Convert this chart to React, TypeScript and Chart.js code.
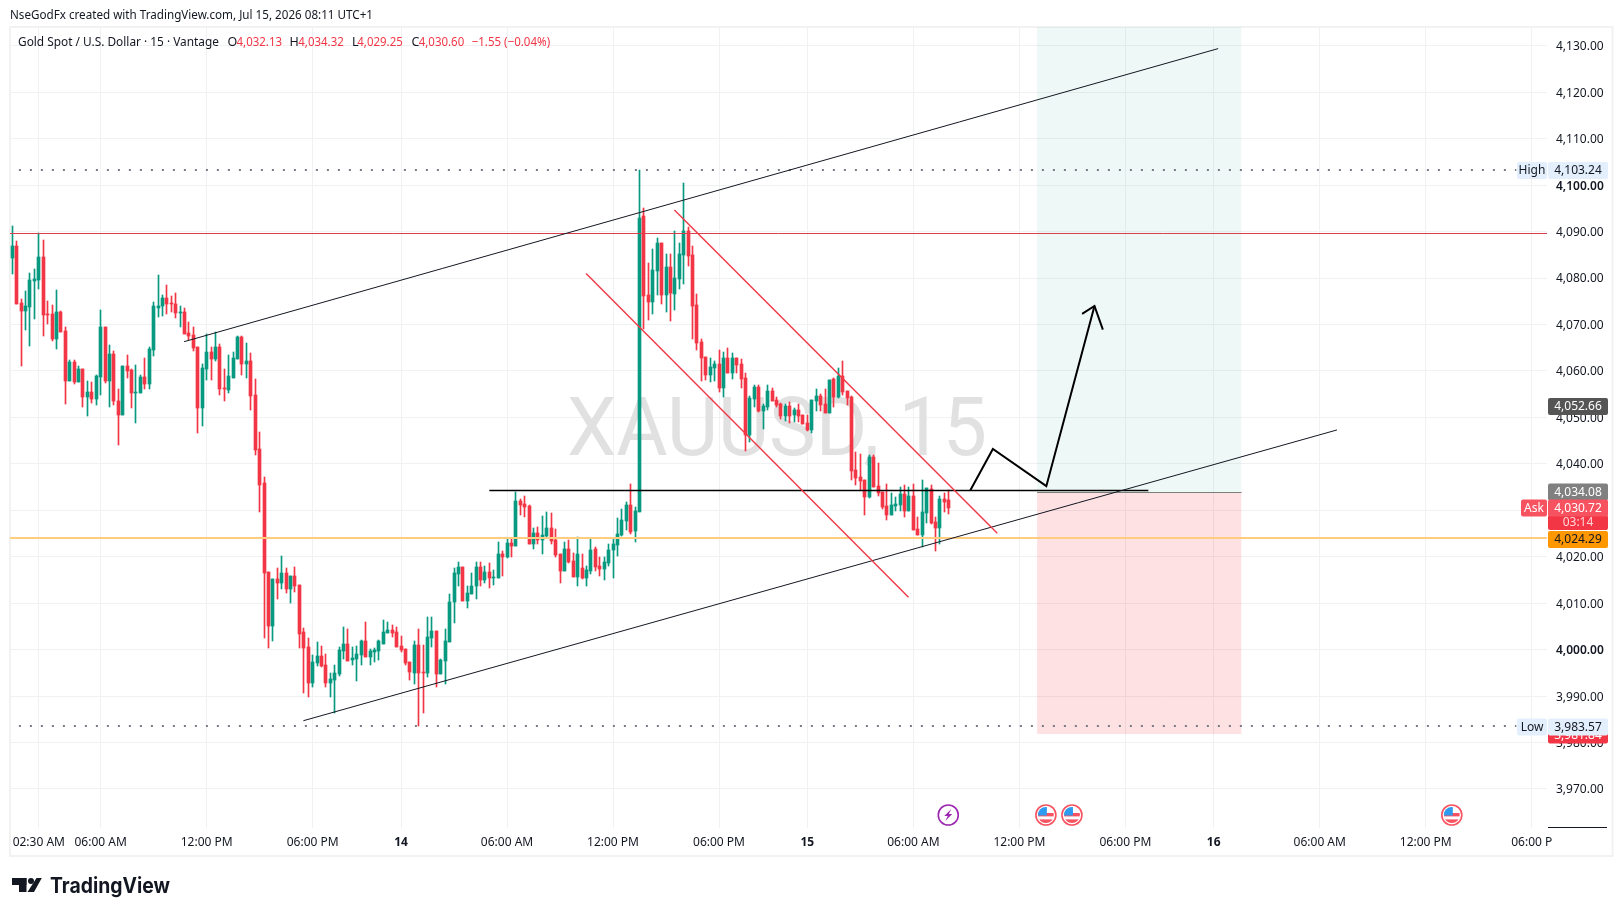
import React, { useEffect, useRef } from "react";
import { Chart, registerables } from "chart.js";

Chart.register(...registerables);

// ---- candle data (15 minute bars, oldest first) ----
const opens = [
  4084.4,4086.9,4074.6,4072.9,4073.8,4079.4,4079.6,4084.5,4072.3,4072.3,
  4066.9,4072.7,4068.6,4057.8,4061.9,4057.6,4060.4,4054.4,4055.5,4054.0,
  4058.7,4069.5,4057.8,4063.6,4053.5,4050.5,4061.1,4060.2,4055.3,4055.3,
  4058.7,4057.2,4064.5,4073.6,4074.0,4075.7,4074.6,4074.4,4072.5,4072.7,
  4068.2,4067.7,4065.2,4052.0,4060.4,4064.1,4062.6,4065.2,4056.3,4055.9,
  4058.5,4062.6,4067.3,4061.5,4062.1,4054.8,4043.2,4035.9,4016.7,4005.1,
  4015.2,4014.4,4016.5,4013.1,4015.9,4013.9,4003.8,4000.6,3992.8,3997.1,
  3998.6,3996.7,3992.8,3993.5,3994.8,3999.7,4001.2,3997.8,3998.0,3998.9,
  4001.9,3998.4,3999.5,3999.7,4001.2,4003.6,4004.2,4003.8,4000.8,4000.1,
  3997.3,3995.0,4001.0,3995.2,3995.0,4002.5,4004.0,3994.8,3997.6,4001.7,
  4010.3,4016.3,4017.8,4010.5,4012.0,4013.7,4017.8,4015.0,4016.7,4015.4,
  4015.4,4020.6,4020.0,4023.0,4022.3,4032.0,4031.4,4030.9,4022.8,4025.1,
  4023.6,4024.5,4026.2,4023.6,4020.6,4016.9,4021.7,4019.1,4015.6,4017.6,
  4015.4,4016.9,4021.7,4018.0,4017.4,4018.7,4021.5,4022.5,4024.7,4027.7,
  4031.1,4025.5,4029.6,4093.3,4076.3,4074.8,4081.5,4087.5,4076.3,4082.4,
  4076.6,4079.8,4085.0,4090.1,4085.0,4074.2,4066.2,4063.0,4059.1,4060.6,
  4061.5,4056.3,4062.8,4059.6,4062.8,4061.5,4058.5,4046.2,4054.0,4056.6,
  4051.4,4052.2,4055.7,4053.8,4052.9,4050.3,4052.5,4050.5,4051.6,4050.5,
  4048.8,4047.3,4053.5,4054.6,4052.9,4051.0,4058.3,4054.4,4058.9,4055.7,
  4054.4,4038.7,4037.2,4036.5,4032.9,4041.5,4035.2,4033.9,4030.9,4029.0,
  4030.9,4031.2,4033.5,4029.9,4033.1,4026.0,4024.7,4029.4,4034.6,4027.5,
  4026.2,4032.4,4032.13,
];
const highs = [
  4091.2,4088.0,4075.5,4077.2,4081.1,4081.9,4089.6,4088.2,4075.1,4074.2,
  4077.4,4072.9,4069.5,4062.4,4062.4,4061.1,4060.4,4057.8,4057.6,4059.1,
  4073.1,4069.5,4065.6,4064.3,4056.1,4061.1,4063.4,4060.4,4061.3,4059.1,
  4062.8,4065.2,4074.8,4080.6,4076.3,4078.5,4076.1,4076.8,4074.0,4073.6,
  4070.5,4069.5,4065.2,4061.5,4068.0,4065.2,4068.4,4065.8,4060.4,4063.4,
  4064.1,4067.5,4067.5,4066.0,4063.9,4058.3,4046.9,4037.2,4016.7,4015.2,
  4017.6,4020.2,4017.6,4015.9,4017.8,4013.9,4004.7,4002.5,3998.9,4001.7,
  4000.8,3999.1,3995.0,3996.7,4000.6,4004.9,4004.5,4000.6,4000.8,4002.1,
  4006.0,4000.1,4000.4,4002.1,4006.4,4006.0,4005.3,4004.9,4003.0,4000.1,
  3997.3,4001.9,4004.5,4001.0,4007.0,4007.0,4004.0,3998.0,4004.5,4012.0,
  4017.6,4018.9,4017.8,4013.7,4016.5,4018.9,4018.9,4018.0,4018.7,4017.2,
  4023.2,4021.2,4024.0,4023.8,4033.9,4032.4,4033.1,4031.1,4026.2,4026.4,
  4028.8,4029.6,4029.4,4026.0,4020.6,4023.2,4023.6,4020.8,4024.3,4020.6,
  4018.0,4023.8,4022.1,4019.9,4019.9,4022.7,4023.8,4028.3,4030.3,4031.8,
  4035.7,4030.7,4103.24,4095.1,4083.2,4086.3,4088.6,4087.5,4085.2,4085.2,
  4090.1,4087.5,4100.5,4091.0,4086.9,4076.6,4066.9,4063.0,4062.8,4062.1,
  4064.5,4064.1,4064.9,4063.9,4062.8,4062.6,4059.6,4054.6,4057.0,4057.0,
  4052.9,4057.0,4056.3,4054.4,4053.1,4052.9,4053.3,4052.0,4052.9,4050.5,
  4050.5,4053.8,4056.1,4055.0,4056.1,4058.1,4058.5,4060.6,4062.1,4055.7,
  4054.6,4042.6,4042.1,4036.5,4041.9,4041.9,4040.2,4033.9,4035.7,4033.7,
  4032.9,4035.0,4035.5,4035.0,4035.7,4028.6,4036.5,4034.8,4035.5,4028.6,
  4033.1,4033.7,4034.32,
];
const lows = [
  4080.9,4074.5,4061.1,4068.8,4065.4,4071.2,4077.6,4067.5,4070.1,4066.5,
  4064.7,4068.4,4052.9,4057.8,4057.2,4057.6,4052.2,4050.3,4053.1,4052.7,
  4054.8,4057.4,4052.2,4052.7,4044.1,4050.5,4058.5,4052.0,4048.8,4055.3,
  4056.1,4056.1,4063.2,4071.6,4071.8,4072.3,4072.7,4071.4,4069.5,4068.0,
  4066.7,4064.3,4046.6,4048.2,4058.0,4058.0,4062.1,4054.8,4053.5,4055.3,
  4058.5,4062.6,4059.1,4058.5,4051.6,4041.9,4029.6,4002.5,4000.4,4001.9,
  4010.9,4013.1,4012.2,4010.0,4012.4,4000.4,3990.7,3989.8,3992.0,3996.5,
  3996.3,3992.0,3989.8,3986.3,3994.3,3998.0,3997.6,3996.7,3993.3,3996.7,
  3998.4,3996.7,3997.3,3997.8,4001.2,4003.6,4002.7,4000.6,3999.5,3996.7,
  3993.5,3992.6,3983.57,3986.3,3994.1,4000.6,3992.0,3994.8,3992.6,4001.7,
  4005.7,4013.7,4010.5,4009.0,4012.0,4010.9,4013.7,4014.4,4013.3,4013.9,
  4015.4,4015.9,4019.7,4020.0,4022.3,4029.0,4028.6,4022.8,4021.7,4022.8,
  4020.6,4024.3,4022.8,4020.0,4014.3,4016.9,4018.7,4015.6,4013.7,4015.2,
  4013.7,4016.3,4016.9,4015.9,4015.0,4018.0,4015.4,4020.2,4024.5,4025.8,
  4024.9,4023.2,4029.6,4069.0,4071.0,4072.3,4076.3,4074.4,4072.7,4070.8,
  4073.1,4077.6,4078.7,4082.6,4066.9,4064.5,4057.8,4058.1,4057.6,4057.8,
  4055.5,4054.4,4059.6,4058.3,4059.6,4056.3,4042.8,4044.7,4052.2,4051.2,
  4047.5,4051.6,4053.5,4052.2,4049.7,4049.2,4048.8,4049.0,4049.0,4048.6,
  4047.1,4046.6,4051.4,4051.4,4051.0,4051.0,4052.2,4054.2,4054.8,4052.7,
  4036.5,4035.5,4034.4,4029.0,4032.6,4035.0,4033.1,4030.3,4027.9,4029.0,
  4029.9,4029.9,4028.6,4029.9,4025.8,4024.7,4022.1,4027.3,4027.1,4021.2,
  4022.7,4029.6,4029.25,
];
const closes = [
  4086.9,4074.5,4072.9,4074.0,4079.6,4079.8,4084.5,4072.0,4072.0,4066.9,
  4072.7,4068.4,4057.8,4061.9,4057.6,4060.4,4054.4,4055.5,4054.0,4058.9,
  4069.5,4057.8,4063.6,4053.5,4050.5,4061.1,4060.0,4055.3,4055.5,4058.7,
  4057.2,4064.7,4074.0,4074.0,4075.7,4074.4,4074.4,4072.5,4072.7,4068.0,
  4067.5,4064.9,4052.0,4060.6,4064.1,4062.6,4065.2,4056.1,4056.1,4058.9,
  4062.8,4067.3,4061.5,4062.1,4054.6,4043.0,4035.5,4016.5,4005.1,4015.2,
  4014.4,4016.5,4013.1,4015.9,4013.7,4003.4,4000.4,3992.8,3997.3,3998.6,
  3996.5,3992.8,3993.7,3995.0,3999.9,4001.2,3997.6,3998.2,3999.1,4001.9,
  3998.4,3999.7,3999.9,4001.9,4003.8,4004.2,4003.6,4000.6,3999.9,3997.1,
  3995.2,4001.0,3995.0,3995.0,4002.7,4004.0,3994.8,3997.8,4001.9,4010.3,
  4016.5,4017.8,4010.5,4012.2,4013.7,4017.8,4015.0,4016.7,4015.4,4015.6,
  4020.6,4020.0,4023.0,4022.3,4032.0,4031.1,4030.7,4022.8,4025.1,4023.6,
  4024.7,4026.2,4023.4,4020.4,4016.9,4021.7,4018.9,4015.6,4020.6,4015.4,
  4017.2,4021.5,4017.8,4017.4,4018.9,4021.5,4022.7,4024.9,4027.9,4031.1,
  4025.3,4029.8,4092.9,4076.1,4074.8,4081.7,4087.5,4076.3,4082.4,4076.8,
  4080.0,4085.2,4090.1,4084.7,4074.0,4066.0,4062.8,4059.1,4060.8,4061.5,
  4056.3,4062.8,4059.6,4062.8,4061.3,4058.3,4046.2,4054.2,4056.6,4051.4,
  4052.5,4055.7,4053.5,4052.7,4050.3,4052.5,4050.3,4051.6,4050.3,4048.6,
  4047.3,4053.8,4054.6,4052.7,4051.0,4058.1,4054.4,4058.9,4055.5,4054.2,
  4038.5,4037.0,4036.3,4032.9,4041.5,4035.0,4033.7,4030.7,4029.0,4031.2,
  4031.4,4033.5,4029.9,4033.1,4025.8,4024.7,4029.6,4034.8,4027.3,4026.2,
  4032.4,4031.8,4030.60,
];

// ---- axes ----
const priceTicks = [3970,3980,3990,4000,4010,4020,4030,4040,4050,4060,4070,4080,4090,4100,4110,4120,4130];
const timeTickBars = [7,21,45,69,89,113,137,161,181,205,229,253,273,297,321,345];
const timeTickLabels = ["02:30 AM","06:00 AM","12:00 PM","06:00 PM","14","06:00 AM","12:00 PM","06:00 PM","15","06:00 AM","12:00 PM","06:00 PM","16","06:00 AM","12:00 PM","06:00 P"];
const dateLabels = ["14","15","16"];

// ---- drawings, as [bar number, price] ----
const wedgeUpper = [[39.9,4066.3],[274,4129.4]];
const wedgeLower = [[66.9,3984.7],[300.9,4047.3]];
const channelUpper = [[150.9,4094.65],[224,4025.05]];
const channelLower = [[130.9,4081.0],[203.9,4011.3]];
const resistance = [[109,4034.3],[258.2,4034.3]];
const arrowPath = [[217.9,4034.3],[223,4043.2],[235.1,4035.2],[246,4074.0]];
const arrowHead = [[243.2,4072.3],[246,4074.0],[247.9,4068.9]];

const positionStartBar = 233.0;
const positionEndBar = 279.3;
const entryPrice = 4034.08;
const entryLineLevel = 4033.85;
const stopPrice = 3981.84;
const targetPrice = 4150;
const dottedEndBar = 341.5;

const redLevel = 4089.6;
const orangeLevel = 4023.9;
const highPrice = 4103.24;
const lowPrice = 3983.4;
const lowLabel = 3983.57;
const lastBidPrice = 4052.66;
const askPrice = 4030.72;

const flagBars = [235, 240.9, 326.9];
const boltBars = [212.9];

const headerText = "NseGodFx created with TradingView.com, Jul 15, 2026 08:11 UTC+1";
const titleText = "Gold Spot / U.S. Dollar · 15 · Vantage";
const ohlcText = ["4,032.13","4,034.32","4,029.25","4,030.60"];
const changeText = "−1.55 (−0.04%)";
const watermarkText = "XAUUSD, 15";

const FONT = '"Noto Sans", sans-serif';
const GREEN = "#089981";
const RED = "#f23645";
const TEXT = "#131722";

const xy = (pts: number[][]) => pts.map(([x, y]) => ({ x, y }));
const fmt = (v: number) => v.toLocaleString("en-US", { minimumFractionDigits: 2, maximumFractionDigits: 2 });

function tag(ctx: CanvasRenderingContext2D, x: number, y: number, w: number, h: number, bg: string, fg: string, text: string, font = `12px ${FONT}`) {
  ctx.fillStyle = bg;
  ctx.beginPath();
  ctx.roundRect(x, y, w, h, 2);
  ctx.fill();
  ctx.fillStyle = fg;
  ctx.font = font;
  ctx.textAlign = "center";
  ctx.textBaseline = "middle";
  ctx.fillText(text, x + w / 2, y + h / 2 + 0.5);
}

function drawFlag(ctx: CanvasRenderingContext2D, cx: number, cy: number) {
  ctx.save();
  ctx.beginPath();
  ctx.arc(cx, cy, 10, 0, Math.PI * 2);
  ctx.fillStyle = "#fff";
  ctx.fill();
  ctx.beginPath();
  ctx.arc(cx, cy, 8, 0, Math.PI * 2);
  ctx.clip();
  ctx.fillStyle = "#f7525f";
  ctx.fillRect(cx - 8, cy - 2, 16, 3.4);
  ctx.fillRect(cx - 8, cy + 4.4, 16, 4);
  ctx.fillStyle = "#2f9bf0";
  ctx.fillRect(cx - 8, cy - 8, 9, 8.5);
  ctx.restore();
  ctx.beginPath();
  ctx.arc(cx, cy, 10, 0, Math.PI * 2);
  ctx.strokeStyle = "#f7525f";
  ctx.lineWidth = 1.6;
  ctx.stroke();
}

function drawBolt(ctx: CanvasRenderingContext2D, cx: number, cy: number) {
  ctx.beginPath();
  ctx.arc(cx, cy, 10, 0, Math.PI * 2);
  ctx.fillStyle = "#fff";
  ctx.fill();
  ctx.strokeStyle = "#9c27b0";
  ctx.lineWidth = 1.6;
  ctx.stroke();
  ctx.fillStyle = "#9c27b0";
  ctx.beginPath();
  const p = [[3,-6],[-4,1],[-0.5,1],[-3,6],[4,-1],[0.5,-1]];
  p.forEach(([a, b], i) => (i ? ctx.lineTo(cx + a, cy + b) : ctx.moveTo(cx + a, cy + b)));
  ctx.closePath();
  ctx.fill();
}

const snapPlugin = {
  id: "snap",
  beforeDatasetDraw(chart: any, args: any) {
    const ds = chart.data.datasets[args.index];
    const meta = args.meta;
    if (meta.type === "bar") {
      meta.data.forEach((el: any) => {
        el.x = Math.floor(el.x) + 0.5;
        el.y = Math.round(el.y);
        el.base = Math.round(el.base);
        if (el.y === el.base) el.base += 1;
      });
    } else if (ds.crisp) {
      meta.data.forEach((el: any) => {
        el.y = Math.floor(el.y) + (ds.borderWidth % 2 === 0 ? 0 : 0.5);
      });
    }
  },
};

const pagePlugin = {
  id: "page",
  beforeDraw(chart: any) {
    const c = chart.ctx;
    c.save();
    c.fillStyle = "#fff";
    c.fillRect(0, 0, chart.width, chart.height);
    c.strokeStyle = "#f2f2f2";
    c.lineWidth = 2;
    c.strokeRect(10, 27, 1602.5, 829);
    c.restore();
  },
  beforeDatasetsDraw(chart: any) {
    const c = chart.ctx;
    c.save();
    c.fillStyle = "#e1e1e1";
    c.font = `82px Roboto, ${FONT}`;
    c.textAlign = "left";
    c.textBaseline = "alphabetic";
    c.fillText(watermarkText, 567, 455, 420);
    c.restore();
  },
  afterDraw(chart: any) {
    const c = chart.ctx;
    const y = chart.scales.y;
    const x = chart.scales.x;
    c.save();

    // header
    c.fillStyle = TEXT;
    c.font = `12.5px ${FONT}`;
    c.textAlign = "left";
    c.textBaseline = "middle";
    c.fillText(headerText, 10, 15.5, 363);
    c.fillText(titleText, 18, 42.5, 201);
    const labels = ["O", "H", "L", "C"];
    const lx = [227.6, 289.4, 352, 411.6];
    const vx = [236.5, 298.3, 357.3, 418.7];
    labels.forEach((l, i) => {
      c.fillStyle = TEXT;
      c.fillText(l, lx[i], 42.5);
      c.fillStyle = RED;
      c.fillText(ohlcText[i], vx[i], 42.5, 45.5);
    });
    c.fillStyle = RED;
    c.fillText(changeText, 471.6, 42.5, 78.5);

    // events
    flagBars.forEach((b) => drawFlag(c, x.getPixelForValue(b), 815));
    boltBars.forEach((b) => drawBolt(c, x.getPixelForValue(b), 815));

    // price tags
    const bx = 1548;
    const bw = 60;
    const h = 17;
    tag(c, bx, y.getPixelForValue(stopPrice) - 8.5 + 1, bw, h, RED, "#fff", fmt(stopPrice));
    tag(c, bx, Math.round(y.getPixelForValue(lowLabel)) - 7.5, bw, h, "#e3effd", TEXT, fmt(lowLabel));
    tag(c, 1517, Math.round(y.getPixelForValue(lowLabel)) - 7.5, 30, h, "#e3effd", TEXT, "Low");
    tag(c, bx, Math.round(y.getPixelForValue(highPrice)) - 8, bw, h, "#e3effd", TEXT, fmt(highPrice));
    tag(c, 1517, Math.round(y.getPixelForValue(highPrice)) - 8, 30, h, "#e3effd", TEXT, "High");
    tag(c, bx, Math.round(y.getPixelForValue(lastBidPrice)) - 7, bw, h, "#555555", "#fff", fmt(lastBidPrice));
    tag(c, bx, Math.round(y.getPixelForValue(entryPrice)) - 7.5, bw, h, "#808080", "#fff", fmt(entryPrice));
    const ay = Math.round(y.getPixelForValue(askPrice));
    tag(c, bx, ay + 8, bw, 15, RED, "#ffd5d8", "03:14");
    tag(c, bx, ay - 7.5, bw, 17, "#f7525f", "#fff", fmt(askPrice));
    tag(c, 1521, ay - 7.5, 26, 17, "#f7525f", "#fff", "Ask");
    tag(c, bx, 531, bw, 17, "#ff9800", TEXT, "4,024.29");
    c.fillStyle = "#131722";
    c.fillRect(1548, 827, 59, 1);

    // logo
    c.fillStyle = "#131722";
    c.fillRect(12, 878, 14.5, 7);
    c.fillRect(19, 878, 7.5, 14);
    c.beginPath();
    c.arc(31, 881, 3, 0, Math.PI * 2);
    c.fill();
    c.beginPath();
    c.moveTo(36.5, 878);
    c.lineTo(41.8, 878);
    c.lineTo(34, 892);
    c.lineTo(27.5, 892);
    c.closePath();
    c.fill();
    c.font = "700 21px Inter, sans-serif";
    c.textBaseline = "alphabetic";
    c.textAlign = "left";
    c.fillText("TradingView", 50, 893, 120);
    c.restore();
  },
};

const lineDs = (pts: number[][], color: string, width: number, order: number, extra: any = {}) => ({
  type: "line",
  data: xy(pts),
  borderColor: color,
  borderWidth: width,
  pointRadius: 0,
  tension: 0,
  fill: false,
  order,
  ...extra,
});

export default function App() {
  const ref = useRef<HTMLCanvasElement>(null);

  useEffect(() => {
    document.body.style.margin = "0";
    const bars = opens.map((_, i) => i + 1);
    const colorOf = (i: number) => (closes[i] >= opens[i] ? GREEN : RED);
    const chart = new Chart(ref.current as HTMLCanvasElement, {
      type: "bar",
      plugins: [pagePlugin, snapPlugin],
      data: {
        datasets: [
          lineDs([[positionStartBar, targetPrice],[positionEndBar, targetPrice]], "rgba(0,0,0,0)", 0, 30, {
            fill: { value: entryLineLevel },
            backgroundColor: "rgba(8,153,129,0.07)",
          }),
          lineDs([[positionStartBar, stopPrice],[positionEndBar, stopPrice]], "rgba(0,0,0,0)", 0, 30, {
            fill: { value: entryLineLevel },
            backgroundColor: "rgba(242,54,69,0.15)",
          }),
          lineDs([[0, redLevel],[349, redLevel]], "#d8404e", 1, 3, { crisp: true }),
          lineDs([[0, orangeLevel],[349, orangeLevel]], "#ffcc80", 2, 3, { crisp: true }),
          lineDs([[0, highPrice],[dottedEndBar, highPrice]], "#787b86", 2, 3, { crisp: true, borderDash: [2, 9] }),
          lineDs([[0, lowPrice],[dottedEndBar, lowPrice]], "#787b86", 2, 3, { crisp: true, borderDash: [2, 9] }),
          {
            type: "bar",
            data: bars.map((b, i) => ({ x: b, y: [lows[i], highs[i]] })),
            backgroundColor: bars.map((_, i) => colorOf(i)),
            barThickness: 1,
            grouped: false,
            order: 6,
          },
          {
            type: "bar",
            data: bars.map((b, i) => ({ x: b, y: [opens[i], closes[i]] })),
            backgroundColor: bars.map((_, i) => colorOf(i)),
            barThickness: 3,
            grouped: false,
            order: 5,
          },
          lineDs([[positionStartBar, entryLineLevel],[positionEndBar, entryLineLevel]], "#7a7f7c", 1, 2, { crisp: true }),
          lineDs(channelUpper, "#f23645", 1.4, 1),
          lineDs(channelLower, "#f23645", 1.4, 1),
          lineDs(wedgeUpper, "#131722", 1, 1),
          lineDs(wedgeLower, "#131722", 1, 1),
          lineDs(resistance, "#000000", 1.5, 1, { crisp: true }),
          lineDs(arrowPath, "#000000", 2, 1),
          lineDs(arrowHead, "#000000", 2, 1),
        ] as any,
      },
      options: {
        responsive: false,
        animation: false,
        devicePixelRatio: 1,
        layout: { padding: { left: 10, right: 10, top: 27, bottom: 60 } },
        plugins: { legend: { display: false }, tooltip: { enabled: false } },
        scales: {
          x: {
            type: "linear",
            offset: false,
            bounds: "data",
            min: 0.479,
            max: 348.45,
            grid: { offset: false, color: "#f0f1f3", drawTicks: false },
            border: { display: false },
            afterFit(s: any) { s.height = 28; },
            afterBuildTicks(s: any) { s.ticks = timeTickBars.map((value) => ({ value })); },
            ticks: {
              autoSkip: false,
              maxRotation: 0,
              padding: 7,
              color: TEXT,
              font: (ctx: any) => {
                const i = timeTickBars.indexOf(ctx.tick?.value);
                return { family: FONT, size: 12, weight: dateLabels.includes(timeTickLabels[i]) ? "bold" : "normal" };
              },
              callback: (v: any) => timeTickLabels[timeTickBars.indexOf(v)] ?? "",
            },
          },
          y: {
            type: "linear",
            position: "right",
            bounds: "data",
            min: 3961.6,
            max: 4134.05,
            grid: { color: "#f0f1f3", drawTicks: false },
            border: { display: false },
            afterFit(s: any) { s.width = 66; },
            afterBuildTicks(s: any) { s.ticks = priceTicks.map((value) => ({ value })); },
            ticks: {
              autoSkip: false,
              align: "center",
              padding: 9,
              labelOffset: 1,
              color: TEXT,
              font: (ctx: any) => ({
                family: FONT,
                size: 12,
                weight: ctx.tick?.value === 4100 || ctx.tick?.value === 4000 ? "600" : "normal",
              }),
              callback: (v: any) => fmt(Number(v)),
            },
          },
        },
      } as any,
    });
    return () => chart.destroy();
  }, []);

  return <canvas ref={ref} width={1623} height={916} style={{ display: "block" }} />;
}
